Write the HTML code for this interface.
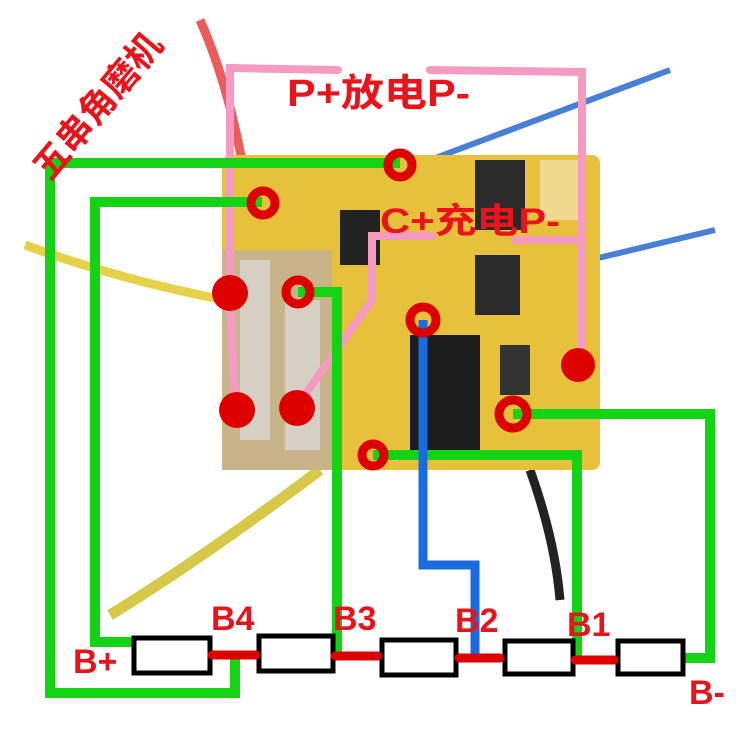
<!DOCTYPE html>
<html><head><meta charset="utf-8"><style>
body{margin:0;background:#fff}
svg{display:block}
text{font-family:"Liberation Sans","Noto Sans CJK SC",sans-serif;font-weight:bold;fill:#e8141c}
</style></head><body>
<svg width="750" height="750" viewBox="0 0 750 750" xmlns="http://www.w3.org/2000/svg">
<path d="M200 20 Q240 110 255 250" stroke="#e84040" stroke-width="9" fill="none" opacity="0.85"/>
<path d="M25 245 Q120 280 225 300" stroke="#e6d24a" stroke-width="9" fill="none"/>
<path d="M110 615 Q200 560 320 470" stroke="#d8c84a" stroke-width="11" fill="none"/>
<path d="M430 160 L670 70" stroke="#4a7fd6" stroke-width="6" fill="none"/>
<path d="M590 260 L715 230" stroke="#4a7fd6" stroke-width="6" fill="none"/>
<path d="M530 470 Q555 540 560 600" stroke="#222" stroke-width="9" fill="none"/>
<rect x="222" y="155" width="378" height="315" rx="8" fill="#e8c13c"/>
<rect x="222" y="250" width="110" height="220" fill="#c9b48a"/>
<rect x="240" y="260" width="30" height="180" fill="#d6d0c4"/>
<rect x="285" y="300" width="35" height="150" fill="#d6d0c4"/>
<rect x="475" y="160" width="50" height="70" fill="#2a2a2a"/>
<rect x="475" y="255" width="45" height="60" fill="#2a2a2a"/>
<rect x="340" y="210" width="40" height="55" fill="#222"/>
<rect x="410" y="335" width="70" height="120" fill="#1c1c1c"/>
<rect x="500" y="345" width="30" height="50" fill="#333"/>
<rect x="540" y="160" width="40" height="60" fill="#f0d890"/>
<g stroke="#f59ac0" stroke-width="8" fill="none" stroke-linecap="round">
<path d="M338 70 L230 68 L230 300 L235 405"/>
<path d="M430 70 L582 72 L582 355"/>
<path d="M300 402 L372 300 L372 236 L432 236"/>
<path d="M515 240 L578 240"/>
</g>
<g stroke="#14d214" stroke-width="10" fill="none" stroke-linejoin="miter">
<path d="M400 163 L50 163 L50 693 L235 693 L235 652"/>
<path d="M262 202 L95 202 L95 642 L132 642"/>
<path d="M298 292 L337 292 L337 652"/>
<path d="M373 455 L577 455 L577 658"/>
<path d="M513 414 L710 414 L710 658 L683 658"/>
</g>
<path d="M423 320 L423 565 L475 565 L475 658" stroke="#1a6ae0" stroke-width="9" fill="none"/>
<g fill="#dd0000">
<circle cx="230" cy="293" r="18"/><circle cx="237" cy="410" r="18"/>
<circle cx="297" cy="408" r="18"/><circle cx="578" cy="365" r="17"/>
</g>
<g fill="none" stroke="#dd0000" stroke-width="9">
<circle cx="400" cy="165" r="12"/><circle cx="263" cy="203" r="12"/>
<circle cx="298" cy="292" r="12"/><circle cx="423" cy="320" r="13"/>
<circle cx="513" cy="414" r="14"/><circle cx="373" cy="455" r="11"/>
</g>
<g fill="#fff" stroke="#000" stroke-width="5">
<rect x="134" y="638" width="76" height="35"/>
<rect x="259" y="636" width="74" height="35"/>
<rect x="382" y="640" width="74" height="35"/>
<rect x="505" y="641" width="68" height="33"/>
<rect x="618" y="641" width="65" height="33"/>
</g>
<g stroke="#dd0000" stroke-width="9" stroke-linecap="round">
<line x1="212" y1="655" x2="256" y2="655"/>
<line x1="335" y1="656" x2="378" y2="656"/>
<line x1="459" y1="658" x2="500" y2="658"/>
<line x1="575" y1="660" x2="614" y2="660"/>
</g>
<text x="287" y="106" font-size="38" textLength="183" lengthAdjust="spacingAndGlyphs">P+放电P-</text>
<text x="380" y="233" font-size="35" textLength="180" lengthAdjust="spacingAndGlyphs">C+充电P-</text>
<text transform="translate(50,182) rotate(-50)" font-size="36" textLength="178" lengthAdjust="spacingAndGlyphs">五串角磨机</text>
<text x="73" y="673" font-size="34">B+</text>
<text x="211" y="630" font-size="34">B4</text>
<text x="333" y="630" font-size="34">B3</text>
<text x="455" y="632" font-size="34">B2</text>
<text x="567" y="636" font-size="34">B1</text>
<text x="689" y="704" font-size="34">B-</text>
</svg>
</body></html>
